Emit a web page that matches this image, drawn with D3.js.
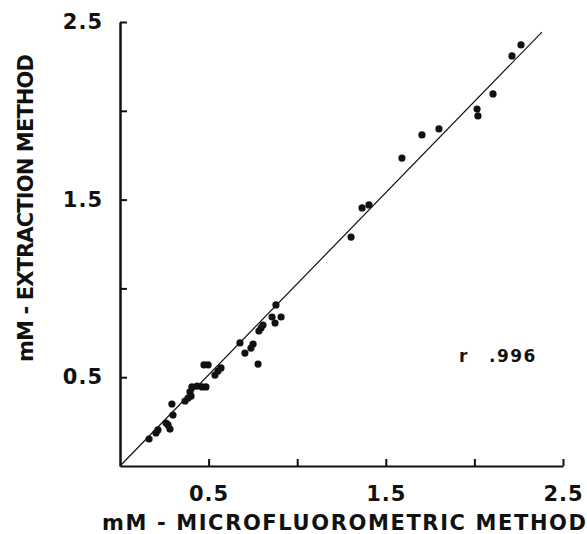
<!DOCTYPE html>
<html>
<head>
<meta charset="utf-8">
<script src="https://cdn.jsdelivr.net/npm/d3@7"></script>
<style>
  body { margin: 0; background: #fff; }
  svg { display: block; }
  text { font-family: "DejaVu Sans", "Liberation Sans", sans-serif; font-weight: bold; fill: #111; }
</style>
</head>
<body>
<div id="chart"></div>
<script>
// microfluorometric (x) vs extraction (y), mM
const microValues = [
  0.164, 0.203, 0.214, 0.260, 0.271, 0.282, 0.299, 0.293, 0.367, 0.384,
  0.401, 0.395, 0.406, 0.435, 0.463, 0.485, 0.474, 0.497, 0.536, 0.553,
  0.570, 0.677, 0.705, 0.739, 0.751, 0.779, 0.784, 0.796, 0.807, 0.858,
  0.875, 0.909, 0.880, 1.304, 1.366, 1.405, 1.591, 1.704, 1.800, 2.015,
  2.020, 2.105, 2.212, 2.263
];
const extractValues = [
  0.152, 0.186, 0.203, 0.242, 0.231, 0.208, 0.287, 0.349, 0.366, 0.383,
  0.394, 0.417, 0.445, 0.450, 0.445, 0.445, 0.569, 0.569, 0.512, 0.535,
  0.552, 0.693, 0.636, 0.664, 0.687, 0.574, 0.760, 0.777, 0.794, 0.839,
  0.805, 0.839, 0.907, 1.289, 1.453, 1.470, 1.734, 1.864, 1.898, 2.010,
  1.971, 2.095, 2.309, 2.371
];
const tickValues = [0.5, 1.0, 1.5, 2.0, 2.5];
const tickLabels = ["0.5", "", "1.5", "", "2.5"];
// fitted line
const lineSlope = 1.026;
const lineXEnd = 2.381;
const rValue = ".996";

const width = 587, height = 534;
const svg = d3.select("#chart").append("svg")
    .attr("width", width)
    .attr("height", height);

const x = d3.scaleLinear().domain([0, 2.5]).range([120, 563]);
const y = d3.scaleLinear().domain([0, 2.5]).range([466, 22]);

const fmt = d => tickLabels[tickValues.indexOf(d)];

function styleAxis(g, w){
    g.select(".domain").attr("stroke", "#111").attr("stroke-width", w);
    g.selectAll(".tick line").attr("stroke", "#111").attr("stroke-width", 2);
    g.selectAll(".tick text")
        .attr("font-size", 21)
        .attr("letter-spacing", 1)
        .style("font-family", "'DejaVu Sans', 'Liberation Sans', sans-serif")
        .style("font-weight", "bold")
        .attr("fill", "#111");
}

let xAxis = svg.append("g")
    .attr("transform", `translate(0,${y(0)})`)
    .call(d3.axisBottom(x)
        .tickValues(tickValues)
        .tickSizeInner(-7)
        .tickSizeOuter(0)
        .tickPadding(20)
        .tickFormat(fmt));
styleAxis(xAxis, 2.2);

let yAxis = svg.append("g")
    .attr("transform", `translate(${x(0)},0)`)
    .call(d3.axisLeft(y)
        .tickValues(tickValues)
        .tickSizeInner(-7)
        .tickSizeOuter(0)
        .tickPadding(17)
        .tickFormat(fmt));
styleAxis(yAxis, 2.5);

// fitted line through origin
svg.append("line")
    .attr("x1", x(0))
    .attr("y1", y(0))
    .attr("x2", x(lineXEnd))
    .attr("y2", y(lineXEnd * lineSlope))
    .attr("stroke", "#111")
    .attr("stroke-width", 1.2);

svg.append("g")
    .selectAll("circle")
    .data(microValues)
    .join("circle")
    .attr("cx", d => x(d))
    .attr("cy", (d, i) => y(extractValues[i]))
    .attr("r", 3.6)
    .attr("fill", "#111");

// axis titles
svg.append("text")
    .attr("x", 102)
    .attr("y", 530)
    .attr("font-size", 21)
    .attr("textLength", 484)
    .attr("lengthAdjust", "spacing")
    .text("mM - MICROFLUOROMETRIC  METHOD");

svg.append("text")
    .attr("transform", "translate(33,362) rotate(-90)")
    .attr("font-size", 21)
    .attr("textLength", 308)
    .attr("lengthAdjust", "spacing")
    .text("mM - EXTRACTION  METHOD");

svg.append("text")
    .attr("x", 459)
    .attr("y", 362)
    .attr("font-size", 17)
    .text("r");
svg.append("text")
    .attr("x", 489)
    .attr("y", 362)
    .attr("font-size", 17)
    .attr("letter-spacing", 1.5)
    .text(rValue);
</script>
</body>
</html>
